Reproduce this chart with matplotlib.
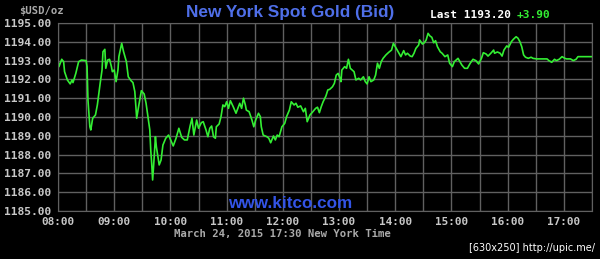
import matplotlib
matplotlib.use("Agg")
import matplotlib.pyplot as plt
from matplotlib.ticker import FixedLocator, MultipleLocator

# minutes after 08:00 (New York time) and bid price
minutes = [0, 1, 4, 6, 7, 10, 13, 15, 16, 19, 22, 25, 30, 31, 32, 34, 35, 37, 40, 42,
           45, 47, 48, 50, 51, 53, 55, 57, 58, 60, 62, 64, 65, 68, 70, 73, 75, 78, 80, 82,
           84, 86, 89, 92, 94, 96, 98, 99, 100, 101, 102, 104, 105, 108, 110, 112, 115, 118, 121, 123,
           126, 129, 132, 135, 138, 141, 143, 145, 148, 150, 153, 155, 158, 160, 162, 164, 166, 168, 169, 172,
           174, 176, 178, 180, 182, 184, 187, 190, 192, 194, 196, 198, 200, 201, 204, 207, 209, 211, 214, 216,
           217, 219, 223, 225, 227, 230, 232, 234, 236, 239, 242, 244, 247, 249, 252, 254, 256, 259, 262, 264,
           266, 269, 272, 275, 277, 279, 281, 283, 286, 288, 290, 293, 295, 297, 299, 301, 302, 303, 306, 308,
           310, 312, 314, 316, 318, 321, 323, 326, 328, 330, 332, 334, 337, 339, 341, 343, 345, 347, 350, 353,
           356, 358, 360, 362, 364, 366, 369, 371, 373, 376, 378, 380, 382, 385, 386, 389, 391, 393, 395, 397,
           399, 401, 403, 405, 408, 410, 413, 416, 418, 421, 423, 427, 429, 431, 434, 437, 440, 443, 446, 449,
           452, 454, 457, 459, 462, 465, 466, 469, 472, 474, 476, 479, 481, 484, 486, 489, 491, 493, 495, 497,
           499, 502, 505, 507, 511, 516, 522, 524, 527, 530, 532, 535, 538, 541, 543, 547, 550, 553, 555, 559,
           564, 570]
price = [1192.98, 1192.68, 1193.07, 1192.94, 1192.41, 1191.97, 1191.76, 1191.97, 1191.83, 1192.32,
         1192.94, 1193.03, 1193.00, 1192.68, 1190.90, 1189.48, 1189.31, 1189.93, 1190.11, 1190.64,
         1191.79, 1192.50, 1193.47, 1193.60, 1192.59, 1193.03, 1193.07, 1192.68, 1192.41, 1192.50,
         1191.88, 1192.50, 1193.21, 1193.92, 1193.47, 1192.94, 1192.14, 1191.93, 1191.83, 1191.35,
         1189.93, 1190.55, 1191.40, 1191.22, 1190.73, 1190.02, 1189.31, 1188.24, 1187.54, 1186.65,
         1187.36, 1188.95, 1188.42, 1187.45, 1187.71, 1188.51, 1188.87, 1189.04, 1188.69, 1188.46,
         1188.87, 1189.40, 1188.92, 1188.78, 1188.78, 1189.52, 1189.93, 1189.04, 1189.84, 1189.40,
         1189.70, 1189.75, 1189.31, 1188.95, 1189.40, 1189.52, 1188.95, 1188.87, 1189.48, 1189.63,
         1190.02, 1190.64, 1190.55, 1190.81, 1190.46, 1190.87, 1190.55, 1190.20, 1190.46, 1190.73,
         1190.46, 1191.00, 1190.64, 1190.37, 1190.28, 1189.84, 1189.48, 1189.84, 1190.20, 1190.02,
         1189.48, 1189.04, 1188.95, 1188.87, 1188.63, 1188.99, 1188.78, 1189.04, 1188.95, 1189.48,
         1189.66, 1190.02, 1190.37, 1190.81, 1190.64, 1190.73, 1190.52, 1190.59, 1190.28, 1190.46,
         1189.75, 1190.11, 1190.28, 1190.46, 1190.52, 1190.23, 1190.55, 1190.81, 1191.12, 1191.44,
         1191.47, 1191.61, 1191.79, 1192.23, 1192.32, 1192.06, 1191.88, 1192.50, 1192.68, 1192.59,
         1193.07, 1192.59, 1192.50, 1192.41, 1191.97, 1192.06, 1191.97, 1192.14, 1191.88, 1191.76,
         1192.14, 1191.88, 1191.97, 1192.23, 1192.86, 1192.59, 1192.94, 1193.12, 1193.30, 1193.44,
         1193.56, 1193.92, 1193.74, 1193.56, 1193.39, 1193.21, 1193.53, 1193.30, 1193.39, 1193.24,
         1193.21, 1193.39, 1193.65, 1193.83, 1194.10, 1193.88, 1193.95, 1194.10, 1194.45, 1194.31,
         1194.24, 1193.95, 1194.06, 1193.74, 1193.47, 1193.39, 1193.21, 1193.30, 1192.86, 1192.68,
         1192.94, 1193.12, 1192.94, 1192.77, 1192.59, 1192.59, 1192.86, 1193.07, 1193.00, 1192.82,
         1193.12, 1193.42, 1193.35, 1193.24, 1193.39, 1193.56, 1193.39, 1193.46, 1193.39, 1193.24,
         1193.56, 1193.78, 1193.71, 1194.01, 1194.13, 1194.27, 1194.19, 1194.01, 1193.74, 1193.30,
         1193.18, 1193.12, 1193.18, 1193.12, 1193.09, 1193.09, 1193.09, 1193.00, 1192.91, 1193.07,
         1193.00, 1193.07, 1193.21, 1193.12, 1193.09, 1193.09, 1193.00, 1193.07, 1193.21, 1193.21,
         1193.21, 1193.21]

x_ticks = [0, 60, 120, 180, 240, 300, 360, 420, 480, 540]
x_labels = ["08:00", "09:00", "10:00", "11:00", "12:00", "13:00", "14:00", "15:00", "16:00", "17:00"]
y_ticks = [1185, 1186, 1187, 1188, 1189, 1190, 1191, 1192, 1193, 1194, 1195]

last_price = "1193.20"
change = "+3.90"

mono = "DejaVu Sans Mono"
gray = "#c8c8c8"

fig = plt.figure(figsize=(6.0, 2.59), dpi=100, facecolor="black")
ax = fig.add_axes([58 / 600, 48 / 259, 534 / 600, 188 / 259], facecolor="black")

ax.plot(minutes, price, color="#33ee33", lw=1.2)

ax.set_xlim(0, 570)
ax.set_ylim(1185, 1195)
ax.xaxis.set_major_locator(FixedLocator(x_ticks))
ax.xaxis.set_minor_locator(MultipleLocator(30))
ax.set_xticklabels(x_labels)
ax.set_yticks(y_ticks)
ax.set_yticklabels([f"{v:.2f}" for v in y_ticks])
ax.grid(True, which="both", color="#606060", lw=1.0)
ax.tick_params(which="both", length=0, colors=gray)
ax.tick_params(axis="y", pad=5, labelsize=8.1)
ax.tick_params(axis="x", pad=4, labelsize=7.9)
for lab in ax.get_xticklabels() + ax.get_yticklabels():
    lab.set_family(mono)
    lab.set_fontweight("bold")
for sp in ax.spines.values():
    sp.set_color("#606060")

fig.text(19 / 600, 1 - 11 / 259, "$USD/oz", color="#aaaaaa", family=mono,
         fontsize=7.6, fontweight="bold", va="center")
fig.text(290 / 600, 1 - 12 / 259, "New York Spot Gold (Bid)", color="#4f6fe8",
         family="Liberation Sans", fontsize=12.4, fontweight="bold", ha="center", va="center")
fig.text(430 / 600, 1 - 15 / 259, "Last " + last_price, color="white", family=mono,
         fontsize=8, fontweight="bold", va="center")
fig.text(517 / 600, 1 - 15 / 259, change, color="#33ee33", family=mono,
         fontsize=8, fontweight="bold", va="center")
fig.text(290 / 600, 1 - 203 / 259, "www.kitco.com", color="#3354e6",
         family="Liberation Sans", fontsize=12.3, fontweight="bold", ha="center", va="center")
fig.text(282 / 600, 1 - 233.5 / 259, "March 24, 2015 17:30 New York Time", color="#aaaaaa",
         family=mono, fontsize=7.7, fontweight="bold", ha="center", va="center")
fig.text(595 / 600, 1 - 248 / 259, "[630x250] http://upic.me/", color="white",
         family="DejaVu Sans", fontsize=7, ha="right", va="center")

fig.savefig("out.png", dpi=100, facecolor="black")
